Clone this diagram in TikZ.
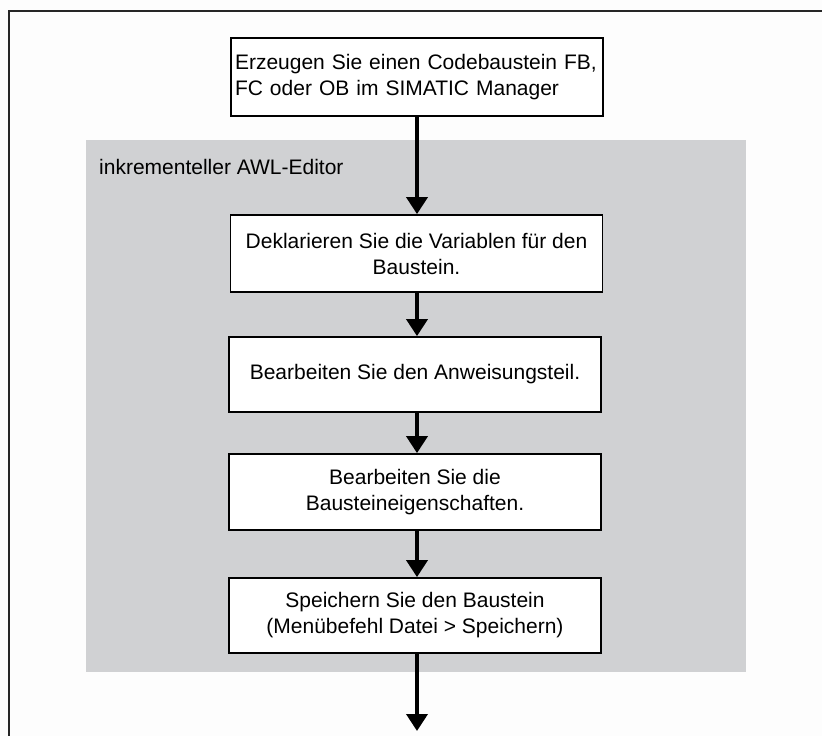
\documentclass[tikz,border=0pt]{standalone}
\usepackage{fontspec}
\setmainfont{Liberation Sans}
\usetikzlibrary{arrows.meta}
\definecolor{editorgray}{RGB}{208,209,211}
\definecolor{pagebg}{RGB}{253,253,253}
\begin{document}
\begin{tikzpicture}[x=1pt,y=-1pt,
  every node/.style={font=\fontsize{21}{26}\selectfont},
  stepbox/.style={draw=black, line width=1.8pt, fill=white, align=center,
    minimum width=372pt, inner sep=0pt},
  flow/.style={draw=black, line width=3.8pt,
    -{Triangle[width=21pt,length=17pt]}},
  frameline/.style={draw=black!85, line width=2pt}
]
\useasboundingbox (0,0) rectangle (822,736);
\fill[pagebg] (0,0) rectangle (822,736);
% outer frame (top and left only)
\draw[frameline] (822,11) -- (9,11) -- (9,736);
% editor region
\fill[editorgray] (86,140) rectangle (746,672);
\node[anchor=west, inner sep=0pt] (lbl) at (99,167) {inkrementeller AWL-Editor};
% boxes
\node[stepbox, minimum height=78pt, text width=364pt, align=left, inner xsep=4pt]
  (b1) at (417,77) {Erzeugen Sie einen Codebaustein FB,\\FC oder OB im SIMATIC Manager};
\node[stepbox, minimum height=77pt] (b2) at (416.5,253.5)
  {Deklarieren Sie die Variablen für den\\Baustein.};
\node[stepbox, minimum height=75pt] (b3) at (415,374.5)
  {Bearbeiten Sie den Anweisungsteil.};
\node[stepbox, minimum height=76pt] (b4) at (415,492)
  {Bearbeiten Sie die\\Bausteineigenschaften.};
\node[stepbox, minimum height=75pt] (b5) at (415,615.5)
  {Speichern Sie den Baustein\\(Menübefehl Datei > Speichern)};
\coordinate (axis) at (417,0);
\coordinate (end) at (417,731);
% connectors
\draw[flow] (b1.south -| axis) -- (b2.north -| axis);
\draw[flow] (b2.south -| axis) -- (b3.north -| axis);
\draw[flow] (b3.south -| axis) -- (b4.north -| axis);
\draw[flow] (b4.south -| axis) -- (b5.north -| axis);
\draw[flow] (b5.south -| axis) -- (end);
\end{tikzpicture}
\end{document}
